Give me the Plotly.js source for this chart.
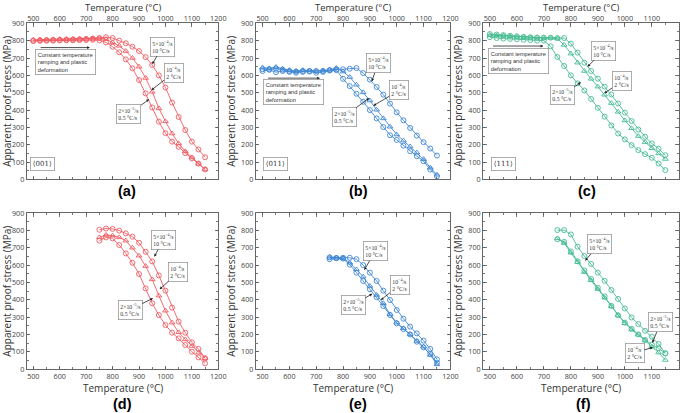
<!DOCTYPE html>
<html><head><meta charset="utf-8">
<script src="https://cdn.plot.ly/plotly-3.0.1.min.js"></script>
<style>html,body{margin:0;padding:0;background:#fff}#chart{width:685px;height:413px}</style>
</head><body><div id="chart"></div>
<script>
// ---- data ----
const tempTop = [500,525,550,575,600,625,650,675,700,725,750,775,800,825,850,875,900,925,950,975,1000,1025,1050,1075,1100,1125,1150];
const tempBot = [750,775,800,825,850,875,900,925,950,975,1000,1025,1050,1075,1100,1125,1150];
const xTicks = [500,600,700,800,900,1000,1100,1200];
const yTicks = [0,100,200,300,400,500,600,700,800,900];
const rateLabels = ['5×10<sup>−4</sup>/s<br>10 °C/s', '10<sup>−4</sup>/s<br>2 °C/s', '2×10<sup>−5</sup>/s<br>0.5 °C/s'];
const orientLabels = ['⟨001⟩','⟨011⟩','⟨111⟩'];
const panelLabels = ['(a)','(b)','(c)','(d)','(e)','(f)'];
const xTitle = 'Temperature (°C)';
const yTitle = 'Apparent proof stress (MPa)';

// (a) <001>, ramping
const a_fast = [800,802,803,804,805,806,807,808,810,812,815,820,815,800,785,765,740,705,660,600,530,443,360,285,218,173,128];
const a_mid  = [805,806,806,807,808,808,809,810,810,812,815,808,790,770,740,700,650,585,505,410,335,265,208,162,127,90,58];
const a_slow = [798,799,800,800,801,802,802,803,804,805,802,790,765,733,692,640,573,496,415,333,267,218,188,152,122,92,58];
// (b) <011>, ramping
const b_fast = [635,635,640,632,625,622,625,625,625,625,630,635,635,638,642,613,575,533,489,437,387,341,297,253,215,178,138];
const b_mid  = [645,640,648,638,630,625,630,628,625,628,632,642,622,590,546,502,455,402,352,304,259,224,190,155,117,68,27];
const b_slow = [625,632,618,625,620,615,620,622,615,620,628,630,580,538,494,448,400,352,302,255,228,195,163,134,105,57,18];
// (c) <111>, ramping
const c_fast = [838,835,832,828,825,822,820,818,818,817,815,815,783,731,673,625,581,535,490,438,385,337,288,246,208,177,140];
const c_mid  = [832,830,828,825,822,820,818,817,815,815,812,775,725,673,625,580,535,488,440,390,340,295,250,215,180,150,118];
const c_slow = [820,815,812,810,808,805,803,800,800,767,706,654,600,554,513,464,413,362,311,265,231,198,169,146,125,92,54];
// (d) <001>
const d_fast = [805,812,810,800,784,765,730,678,622,541,453,355,274,210,154,116,62];
const d_mid  = [761,775,771,761,742,701,655,595,518,424,337,268,212,171,133,94,62];
const d_slow = [742,761,755,717,668,614,549,466,380,312,254,210,177,139,100,67,33];
// (e) <011>
const e_fast = [645,642,643,643,635,601,557,509,453,399,341,291,245,206,164,116,56];
const e_mid  = [648,642,640,614,576,534,480,428,380,316,268,235,200,162,129,81,27];
const e_slow = [635,640,638,603,557,509,461,415,364,312,264,231,200,158,125,87,37];
// (f) <111>
const f_fast = [803,803,778,707,653,607,557,510,457,405,350,298,260,221,187,145,91];
const f_mid  = [755,728,672,618,560,512,462,412,362,312,265,228,198,165,128,95,52];
const f_slow = [750,735,680,622,570,520,470,420,365,310,268,232,200,168,140,120,90];

// ---- styling ----
const colors = ['#ef5b62','#3f87d4','#46bb92'];
const symbols = ['circle-open','triangle-up-open','circle-open'];
const panels = [
  {x: tempTop, s:[a_fast,a_mid,a_slow], c:0},
  {x: tempTop, s:[b_fast,b_mid,b_slow], c:1},
  {x: tempTop, s:[c_fast,c_mid,c_slow], c:2},
  {x: tempBot, s:[d_fast,d_mid,d_slow], c:0},
  {x: tempBot, s:[e_fast,e_mid,e_slow], c:1},
  {x: tempBot, s:[f_fast,f_mid,f_slow], c:2}
];
const xDomains = [[0.039,0.3187],[0.3735,0.6575],[0.7053,0.991]];
const yDomains = [[0.5654,0.9436],[0.1065,0.4835]];

const traces = [];
const layout = {
  width:685, height:413, margin:{l:0,r:0,t:0,b:0},
  paper_bgcolor:'#fff', plot_bgcolor:'#fff', showlegend:false,
  font:{family:'Open Sans, Liberation Sans, sans-serif', color:'#333'},
  annotations:[], hovermode:false
};

panels.forEach((p,i)=>{
  const n = i+1;
  const xa = 'x'+(n===1?'':n), ya = 'y'+(n===1?'':n);
  p.s.forEach((ser,k)=>{
    traces.push({x:p.x, y:ser, xaxis:xa, yaxis:ya, type:'scatter', mode:'lines+markers',
      line:{color:colors[p.c], width:0.9},
      marker:{symbol:symbols[k], size:5, color:colors[p.c], line:{width:0.9, color:colors[p.c]}}});
  });
  const row = i<3?0:1, col = i%3;
  const common = {ticks:'inside', ticklen:3.5, tickwidth:0.8, tickcolor:'#555', showline:true, linecolor:'#666', linewidth:1,
    mirror:'ticks', showgrid:false, zeroline:false,
    tickfont:{size:7.2, color:'#444', family:'Open Sans, sans-serif'},
    minor:{ticks:'inside', ticklen:2, tickcolor:'#555', showgrid:false}};
  layout['xaxis'+(n===1?'':n)] = Object.assign({}, common, {
    domain:xDomains[col], anchor:ya, range:[475,1200], tickvals:xTicks, side: row===0?'top':'bottom',
    ticklabelstandoff: row===0 ? -2 : 0,
    minor:Object.assign({}, common.minor, {dtick:50, tick0:500})
  });
  layout['yaxis'+(n===1?'':n)] = Object.assign({}, common, {
    domain:yDomains[row], anchor:xa, range:[0,900], tickvals:yTicks,
    minor:Object.assign({}, common.minor, {dtick:50, tick0:0}),
    title:{text:yTitle, font:{size:10, color:'#333'}, standoff:3}
  });
  // x axis title as paper text
  const xc = (xDomains[col][0]+xDomains[col][1])/2;
  if (row===0) {
    layout.annotations.push({xref:'paper', yref:'paper', x:xc, y:1, xanchor:'center', yanchor:'top',
      text:xTitle, showarrow:false, font:{size:9.5, color:'#333'}, borderpad:0});
  } else {
    layout.annotations.push({xref:'paper', yref:'paper', x:xc, y:1-388/413, xanchor:'center', yanchor:'middle',
      text:xTitle, showarrow:false, font:{size:10, color:'#333'}, borderpad:0});
  }
});

function rateAnn(n, tipX, tipY, boxX, boxY, text){
  const xr = 'x'+(n===1?'':n), yr = 'y'+(n===1?'':n);
  layout.annotations.push({xref:xr, yref:yr, x:tipX, y:tipY, axref:xr, ayref:yr, ax:boxX, ay:boxY,
    text:text, showarrow:true, arrowhead:2, arrowsize:0.7, arrowwidth:0.8, arrowcolor:'#222',
    align:'left', font:{size:5.8, family:'Liberation Serif, serif', color:'#333'},
    bordercolor:'#999', borderwidth:0.8, borderpad:1.5, bgcolor:'#fff'});
}
function boxAnn(n, x, y, text, size, fam){
  const xr = 'x'+(n===1?'':n), yr = 'y'+(n===1?'':n);
  layout.annotations.push({xref:xr, yref:yr, x:x, y:y, text:text, showarrow:false, align:'left',
    font:{size:size, family:fam, color:'#333'}, bordercolor:'#999', borderwidth:0.8, borderpad:2, bgcolor:'#fff'});
}
function arrowAnn(n, x0, x1, y){
  const xr = 'x'+(n===1?'':n), yr = 'y'+(n===1?'':n);
  layout.annotations.push({xref:xr, yref:yr, x:x1, y:y, axref:xr, ayref:yr, ax:x0, ay:y, text:'',
    showarrow:true, arrowhead:2, arrowsize:0.7, arrowwidth:0.8, arrowcolor:'#222'});
}
const constText = 'Constant temperature<br>ramping and plastic<br>deformation';
// (a)
boxAnn(1, 621, 679, constText, 5.7, 'Liberation Sans, sans-serif'); arrowAnn(1, 522, 714, 760);
rateAnn(1, 950, 665, 990, 766, rateLabels[0]);
rateAnn(1, 947, 515, 1031, 616, rateLabels[1]);
rateAnn(1, 938, 462, 862, 377, rateLabels[2]);
boxAnn(1, 536, 88, orientLabels[0], 7, 'DejaVu Serif, serif');
// (b)
boxAnn(2, 616, 505, constText, 5.7, 'Liberation Sans, sans-serif'); arrowAnn(2, 515, 714, 584);
rateAnn(2, 907, 565, 931, 670, rateLabels[0]);
rateAnn(2, 913, 425, 1009, 514, rateLabels[1]);
rateAnn(2, 897, 469, 804, 362, rateLabels[2]);
boxAnn(2, 549, 88, orientLabels[1], 7, 'DejaVu Serif, serif');
// (c)
boxAnn(3, 605, 683, constText, 5.7, 'Liberation Sans, sans-serif'); arrowAnn(3, 506, 698, 769);
rateAnn(3, 862, 650, 921, 742, rateLabels[0]);
rateAnn(3, 924, 497, 988, 565, rateLabels[1]);
rateAnn(3, 837, 560, 768, 485, rateLabels[2]);
boxAnn(3, 552, 88, orientLabels[2], 7, 'DejaVu Serif, serif');
// (d)
rateAnn(4, 958, 649, 991, 746, rateLabels[0]);
rateAnn(4, 978, 461, 1048, 558, rateLabels[1]);
rateAnn(4, 953, 409, 866, 344, rateLabels[2]);
// (e)
rateAnn(5, 879, 572, 920, 682, rateLabels[0]);
rateAnn(5, 941, 399, 1011, 486, rateLabels[1]);
rateAnn(5, 909, 435, 838, 370, rateLabels[2]);
// (f)
rateAnn(6, 853, 626, 905, 722, rateLabels[0]);
rateAnn(6, 1102, 152, 1133, 269, rateLabels[2]);
rateAnn(6, 1104, 125, 1037, 95, rateLabels[1]);

// panel letters
const letterPos = [[127,191],[358,191],[587,191],[122,404],[358,404],[583,404]];
panelLabels.forEach((t,i)=>{
  layout.annotations.push({xref:'paper', yref:'paper', x:letterPos[i][0]/685, y:1-letterPos[i][1]/413,
    xanchor:'center', yanchor:'middle', text:'<b>'+t+'</b>', showarrow:false, borderpad:0,
    font:{size:14.5, family:'Liberation Sans, Arial, sans-serif', color:'#000'}});
});

Plotly.newPlot('chart', traces, layout, {staticPlot:true, displayModeBar:false});
</script></body></html>
